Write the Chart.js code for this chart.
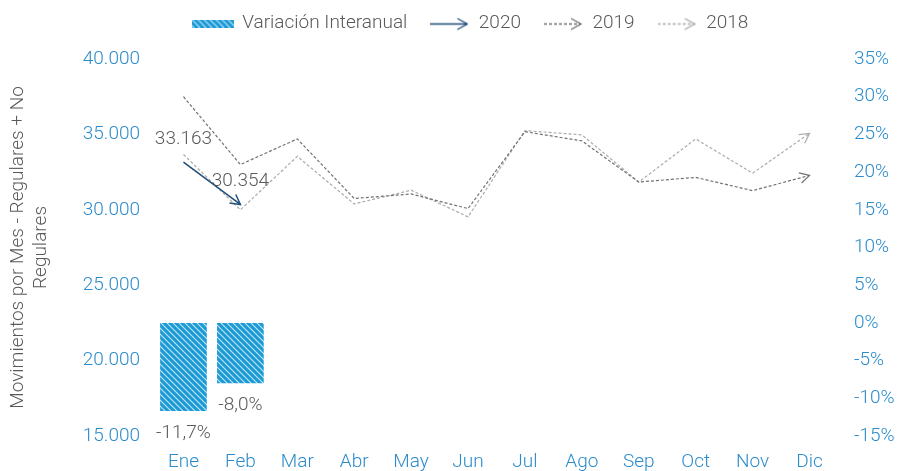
<!DOCTYPE html>
<html>
<head>
<meta charset="utf-8">
<script src="https://cdn.jsdelivr.net/npm/chart.js@4.4.1/dist/chart.umd.min.js"></script>
<style>
  html, body { margin: 0; padding: 0; background: #ffffff; }
  #wrap { width: 897px; height: 471px; position: relative; }
</style>
</head>
<body>
<div id="wrap"><canvas id="c" width="897" height="471"></canvas></div>
<script>
// ---- data ----
const categories = ['Ene','Feb','Mar','Abr','May','Jun','Jul','Ago','Sep','Oct','Nov','Dic'];
const variacion = [-11.7, -8.0, null, null, null, null, null, null, null, null, null, null];
const serie2020 = [33163, 30354, null, null, null, null, null, null, null, null, null, null];
const serie2019 = [37500, 33000, 34700, 30750, 31050, 30080, 35180, 34570, 31840, 32150, 31270, 32280];
const serie2018 = [33670, 30000, 33540, 30390, 31300, 29530, 35250, 34970, 31840, 34700, 32430, 35070];
const leftTicks = { min: 15000, max: 40000, step: 5000 };
const rightTicks = { min: -15, max: 35, step: 5 };
const labelsLegend = ['Variación Interanual', '2020', '2019', '2018'];

// ---- styles ----
const FONT = 'Roboto, "Open Sans", sans-serif';
const FS = 19;
const TICK_COLOR = '#2b8bcb';
const TEXT_COLOR = '#595959';
const C2020 = '#1f4e79';
const C2019 = '#727272';
const C2018 = '#ababab';
const BAR_BLUE = '#1b9ad6';

function makeHatch() {
  const s = 6;
  const p = document.createElement('canvas');
  p.width = s; p.height = s;
  const g = p.getContext('2d');
  g.fillStyle = BAR_BLUE;
  g.fillRect(0, 0, s, s);
  g.strokeStyle = 'rgba(225,243,252,0.85)';
  g.lineWidth = 1.1;
  g.beginPath();
  g.moveTo(-1, -1); g.lineTo(s + 1, s + 1);
  g.moveTo(-1 - s, -1); g.lineTo(1, s + 1);
  g.moveTo(s - 1, -1); g.lineTo(2 * s + 1, s + 1);
  g.stroke();
  return g.createPattern(p, 'repeat');
}
const hatch = makeHatch();

function legendBox() {
  const c = document.createElement('canvas');
  c.width = 42; c.height = 8;
  const g = c.getContext('2d');
  g.fillStyle = hatch;
  g.fillRect(0, 0, 42, 8);
  return c;
}
function legendArrow(color, dash) {
  const c = document.createElement('canvas');
  c.width = 38; c.height = 14;
  const g = c.getContext('2d');
  g.strokeStyle = color;
  g.lineWidth = 1.3;
  g.setLineDash(dash);
  g.beginPath(); g.moveTo(0, 7.5); g.lineTo(36, 7.5); g.stroke();
  g.setLineDash([]);
  g.beginPath(); g.moveTo(27, 2); g.lineTo(37, 7.5); g.lineTo(27, 13); g.stroke();
  return c;
}
const legendImgs = [legendBox(), legendArrow(C2020, []), legendArrow(C2019, [3, 2]), legendArrow(C2018, [3, 2])];

function fmtThousands(v) {
  return String(Math.round(v)).replace(/\B(?=(\d{3})+(?!\d))/g, '.');
}

// arrowheads at the end of each line
const arrowPlugin = {
  id: 'arrows',
  afterDatasetsDraw(chart) {
    const ctx = chart.ctx;
    chart.data.datasets.forEach((ds, i) => {
      if (ds.type !== 'line') return;
      const meta = chart.getDatasetMeta(i);
      const pts = meta.data.filter((p, j) => ds.data[j] !== null && ds.data[j] !== undefined);
      if (pts.length < 2) return;
      const a = pts[pts.length - 2], b = pts[pts.length - 1];
      const ang = Math.atan2(b.y - a.y, b.x - a.x);
      const L = 11, W = 0.5;
      ctx.save();
      ctx.strokeStyle = ds.borderColor;
      ctx.lineWidth = ds.borderWidth;
      ctx.setLineDash([]);
      ctx.beginPath();
      ctx.moveTo(b.x - L * Math.cos(ang - W), b.y - L * Math.sin(ang - W));
      ctx.lineTo(b.x, b.y);
      ctx.lineTo(b.x - L * Math.cos(ang + W), b.y - L * Math.sin(ang + W));
      ctx.stroke();
      ctx.restore();
    });
  }
};

// data labels
const labelPlugin = {
  id: 'dlabels',
  afterDatasetsDraw(chart) {
    const ctx = chart.ctx;
    ctx.save();
    ctx.font = '300 ' + FS + 'px ' + FONT;
    ctx.fillStyle = TEXT_COLOR;
    ctx.textAlign = 'center';
    ctx.textBaseline = 'middle';
    chart.data.datasets.forEach((ds, i) => {
      const meta = chart.getDatasetMeta(i);
      if (ds.label === '2020') {
        meta.data.forEach((p, j) => {
          if (ds.data[j] == null) return;
          ctx.fillText(fmtThousands(ds.data[j]), p.x, p.y - 23);
        });
      }
      if (ds.type === 'bar') {
        meta.data.forEach((p, j) => {
          if (ds.data[j] == null) return;
          ctx.fillText(ds.data[j].toFixed(1).replace('.', ',') + '%', p.x, p.y + 22);
        });
      }
    });
    ctx.restore();
  }
};

// fix legend band height and shift its drawing
const legendHeightPlugin = {
  id: 'legendHeight',
  beforeInit(chart) {
    const lg = chart.legend;
    if (!lg) return;
    const orig = lg.fit;
    lg.fit = function () { orig.call(this); this.height = 59; };
    const od = lg.draw;
    lg.draw = function () {
      const c = this.ctx;
      c.save(); c.translate(22, -8); od.call(this); c.restore();
    };
  }
};

const chart = new Chart(document.getElementById('c'), {
  data: {
    labels: categories,
    datasets: [
      { type: 'bar', label: labelsLegend[0], data: variacion, yAxisID: 'y1',
        backgroundColor: hatch, borderWidth: 0, barPercentage: 0.82, categoryPercentage: 1, order: 4 },
      { type: 'line', label: labelsLegend[1], data: serie2020, yAxisID: 'y',
        borderColor: C2020, borderWidth: 1.5, pointRadius: 0, tension: 0, order: 1, spanGaps: false },
      { type: 'line', label: labelsLegend[2], data: serie2019, yAxisID: 'y',
        borderColor: C2019, borderWidth: 1.2, borderDash: [3, 2], pointRadius: 0, tension: 0, order: 2 },
      { type: 'line', label: labelsLegend[3], data: serie2018, yAxisID: 'y',
        borderColor: C2018, borderWidth: 1.2, borderDash: [3, 2], pointRadius: 0, tension: 0, order: 3 }
    ]
  },
  options: {
    responsive: false,
    animation: false,
    layout: { padding: 0 },
    plugins: {
      tooltip: { enabled: false },
      legend: {
        position: 'top',
        labels: {
          usePointStyle: true,
          pointStyleWidth: 40,
          padding: 22,
          color: TEXT_COLOR,
          font: { family: FONT, size: FS, weight: '300' },
          generateLabels(chart) {
            return chart.data.datasets.map((ds, i) => ({
              text: ds.label,
              pointStyle: legendImgs[i],
              fontColor: TEXT_COLOR,
              datasetIndex: i,
              hidden: false,
              lineWidth: 0,
              strokeStyle: 'transparent',
              fillStyle: 'transparent'
            }));
          }
        }
      }
    },
    scales: {
      x: {
        grid: { display: false, drawTicks: false },
        border: { display: false },
        ticks: { color: TICK_COLOR, font: { family: FONT, size: FS, weight: '300' }, padding: 15, maxRotation: 0 },
        afterFit(s) { s.height = 35; }
      },
      y: {
        position: 'left',
        min: leftTicks.min, max: leftTicks.max,
        grid: { display: false, drawTicks: false },
        border: { display: false },
        ticks: { stepSize: leftTicks.step, color: TICK_COLOR, padding: 15,
          font: { family: FONT, size: FS, weight: '300' },
          callback: v => fmtThousands(v) },
        title: { display: true, text: ['Movimientos por Mes - Regulares + No', 'Regulares'],
          color: TEXT_COLOR, font: { family: FONT, size: FS, weight: '300', lineHeight: 1.2 }, padding: { top: 7, bottom: 0 } },
        afterFit(s) { s.width = 155; }
      },
      y1: {
        position: 'right',
        min: rightTicks.min, max: rightTicks.max,
        grid: { display: false, drawTicks: false },
        border: { display: false },
        ticks: { stepSize: rightTicks.step, color: TICK_COLOR, padding: 16,
          font: { family: FONT, size: FS, weight: '300' },
          callback: v => v + '%' },
        afterFit(s) { s.width = 59; }
      }
    }
  },
  plugins: [legendHeightPlugin, arrowPlugin, labelPlugin]
});
</script>
</body>
</html>
